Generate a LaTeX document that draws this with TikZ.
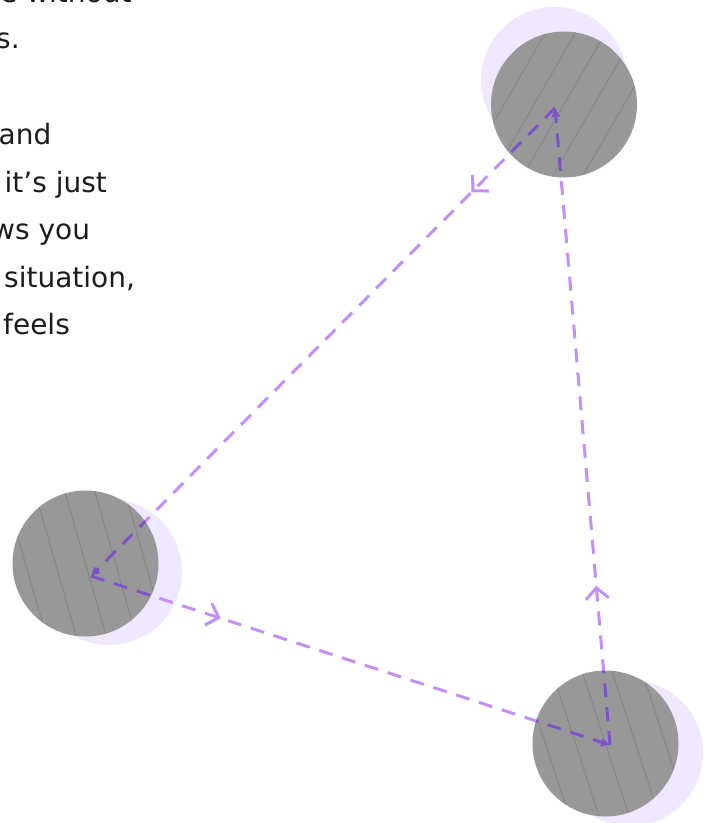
\documentclass[tikz,border=0pt]{standalone}
\usepackage{fontspec}
\setmainfont{DejaVu Sans}
\usetikzlibrary{arrows.meta,decorations.markings,calc}
\definecolor{lav}{RGB}{240,232,254}
\definecolor{discgray}{RGB}{152,152,152}
\definecolor{texgray}{RGB}{112,112,112}
\definecolor{lilac}{RGB}{194,144,248}
\definecolor{deep}{RGB}{122,84,192}
\definecolor{ink}{RGB}{28,28,28}
\tikzset{
  halo/.style={circle, fill=lav, minimum size=146pt, inner sep=0pt},
  disc/.style={circle, fill=discgray, minimum size=146pt, inner sep=0pt},
  flow/.style={line width=3pt, dash pattern=on 14pt off 10pt,
    -{Triangle[length=9pt,width=8pt]},
    decoration={markings, mark=at position #1 with {\arrow{Straight Barb[length=11pt,width=23pt,line width=3pt]}}},
    postaction={decorate}},
  grain/.style={texgray, line width=0.9pt, opacity=0.45},
  txt/.style={anchor=base west, inner sep=0pt, text=ink, font=\fontsize{28}{34}\selectfont}
}
\newcommand{\flows}[1]{%
  \draw[flow=0.18, #1] (pC) -- (pA);
  \draw[flow=0.25, #1] (pA) -- (pB);
  \draw[flow=0.25, #1] (pB) -- (pC);
}
\begin{document}
\begin{tikzpicture}[x=1pt,y=-1pt]
\useasboundingbox (0,0) rectangle (709,823);
\clip (0,0) rectangle (709,823);
\fill[white] (0,0) rectangle (709,823);

% text fragments
\node[txt] (t1) at (0,2) {e without};
\node[txt] (t2) at (-4,48) {s.};
\node[txt] (t3) at (-1.5,144) {and};
\node[txt] (t4) at (4.5,192) {it’s just};
\node[txt] (t5) at (-8,239) {ws you};
\node[txt] (t6) at (4,287) {situation,};
\node[txt] (t7) at (3,334) {feels};

% halos
\node[halo] (hC) at (554,80) {};
\node[halo] (hA) at (109,572) {};
\node[halo] (hB) at (630,753) {};
% discs
\node[disc] (C) at (564,104.5) {};
\node[disc] (A) at (85.5,563.5) {};
\node[disc] (B) at (605.5,743.5) {};

% grain texture
\begin{scope}
  \clip (C) circle (73pt);
  \foreach \k in {-4,...,4}
    \draw[grain] ($(C)+(\k*30,0)+(-60:-95)$) -- ($(C)+(\k*30,0)+(-60:95)$);
\end{scope}
\begin{scope}
  \clip (A) circle (73pt);
  \foreach \k in {-4,...,4}
    \draw[grain] ($(A)+(\k*30,0)+(74:-95)$) -- ($(A)+(\k*30,0)+(74:95)$);
\end{scope}
\begin{scope}
  \clip (B) circle (73pt);
  \foreach \k in {-4,...,4}
    \draw[grain] ($(B)+(\k*30,0)+(72:-95)$) -- ($(B)+(\k*30,0)+(72:95)$);
\end{scope}

% connector end points
\coordinate (pA) at (91,576);
\coordinate (pB) at (610,745);
\coordinate (pC) at (555,108);

% connectors
\flows{lilac}
\begin{scope}
  \clip (C) circle (73pt);
  \flows{deep}
\end{scope}
\begin{scope}
  \clip (A) circle (73pt);
  \flows{deep}
\end{scope}
\begin{scope}
  \clip (B) circle (73pt);
  \flows{deep}
\end{scope}
\end{tikzpicture}
\end{document}
